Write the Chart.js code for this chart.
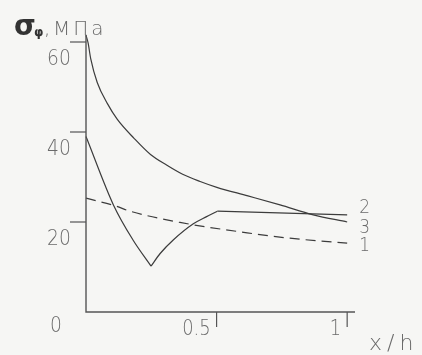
<!DOCTYPE html>
<html>
<head>
<meta charset="utf-8">
<script src="https://cdn.jsdelivr.net/npm/chart.js@4"></script>
<style>
html,body{margin:0;padding:0;background:#f6f6f4;}
#wrap{width:422px;height:355px;position:relative;}
</style>
</head>
<body>
<div id="wrap"><canvas id="c" width="422" height="355"></canvas></div>
<script>
// ---- data ----
const curve3X = [0, 0.008, 0.018, 0.043, 0.082, 0.12, 0.184, 0.247, 0.31, 0.37, 0.437, 0.501, 0.62, 0.743, 0.87, 1.0];
const curve3Y = [61.5, 59.8, 56.3, 51.0, 46.3, 42.8, 38.6, 35.0, 32.6, 30.6, 29.0, 27.7, 25.8, 23.8, 21.6, 20.0];

const curve2DownX = [0, 0.105, 0.18, 0.249];
const curve2DownY = [39, 23.8, 16, 10.2];
const curve2UpX = [0.249, 0.284, 0.334, 0.411, 0.462, 0.503];
const curve2UpY = [10.2, 13.0, 16.0, 19.6, 21.2, 22.4];
const curve2FlatX = [0.503, 1.0];
const curve2FlatY = [22.4, 21.6];

const curve1X = [0, 0.111, 0.169, 0.36, 0.617, 0.78, 1.0];
const curve1Y = [25.3, 23.6, 22.4, 19.9, 17.6, 16.4, 15.3];

const yTicks = [0, 20, 40, 60];
const yTickLabels = ['0', '20', '40', '60'];
const xTicks = [0.5, 1];
const xTickLabels = ['0.5', '1'];
const curveLabels = ['2', '3', '1'];
const curveLabelY = [23.2, 18.8, 14.8];

const xMax = 1.03, yMax = 60;

function pts(xs, ys){ return xs.map((x,i)=>({x:x, y:ys[i]})); }

const LINE = '#3c3c3c';
const TEXT = '#6a6a6a';
const FONT = '"DejaVu Sans", sans-serif';

function ds(data, dash){
  return {data:data, borderColor:LINE, borderWidth:1.2, pointRadius:0,
    cubicInterpolationMode:'monotone', borderDash:dash||[], clip:false, fill:false};
}

const axesPlugin = {
  id:'axesPlugin',
  beforeDraw(chart){
    const ctx = chart.ctx;
    ctx.save();
    ctx.fillStyle = '#f6f6f4';
    ctx.fillRect(0,0,chart.width,chart.height);
    ctx.restore();
  },
  afterDraw(chart){
    const ctx = chart.ctx, xs = chart.scales.x, ys = chart.scales.y;
    const x0 = xs.getPixelForValue(0), y0 = ys.getPixelForValue(0);
    ctx.save();
    ctx.strokeStyle = '#555';
    ctx.lineWidth = 1.4;
    // axes
    ctx.beginPath();
    ctx.moveTo(x0, ys.getPixelForValue(61.6));
    ctx.lineTo(x0, y0);
    ctx.lineTo(xs.getPixelForValue(xMax), y0);
    ctx.stroke();
    // y ticks
    ctx.lineWidth = 1.2;
    ctx.fillStyle = TEXT;
    ctx.font = '200 22px ' + FONT;
    ctx.textAlign = 'center';
    ctx.textBaseline = 'middle';
    yTicks.forEach((v,i)=>{
      const py = ys.getPixelForValue(v);
      if (v !== 0){
        ctx.beginPath(); ctx.moveTo(x0-16, py); ctx.lineTo(x0, py); ctx.stroke();
      }
      ctx.save();
      ctx.translate(v===0 ? x0-30 : x0-27, py + (v===0 ? 14 : 17));
      ctx.scale(0.85,1);
      ctx.fillText(yTickLabels[i], 0, 0);
      ctx.restore();
    });
    // x ticks
    ctx.textAlign = 'right';
    ctx.font = '200 21px ' + FONT;
    xTicks.forEach((v,i)=>{
      const px = xs.getPixelForValue(v);
      ctx.beginPath(); ctx.moveTo(px, y0); ctx.lineTo(px, y0+15); ctx.stroke();
      ctx.save();
      ctx.translate(px-6, y0+18);
      ctx.scale(0.85,1);
      ctx.fillText(xTickLabels[i], 0, 0);
      ctx.restore();
    });
    // x axis title
    ctx.textAlign = 'left';
    ctx.font = '200 22px ' + FONT;
    ctx.letterSpacing = '5px';
    ctx.fillText('x/h', 369, 344);
    ctx.letterSpacing = '0px';
    // curve labels
    ctx.font = '200 20px ' + FONT;
    curveLabels.forEach((t,i)=>{
      ctx.save();
      ctx.translate(xs.getPixelForValue(1.0)+12, ys.getPixelForValue(curveLabelY[i]));
      ctx.scale(0.85,1);
      ctx.fillText(t, 0, 0);
      ctx.restore();
    });
    // y axis title
    ctx.textBaseline = 'alphabetic';
    ctx.fillStyle = '#333';
    ctx.font = 'bold 28px ' + FONT;
    ctx.fillText('σ', 14, 35);
    ctx.font = 'bold 12px ' + FONT;
    ctx.fillText('φ', 34, 36);
    ctx.fillStyle = TEXT;
    ctx.font = '200 20px ' + FONT;
    ctx.fillText(',', 44, 35);
    ctx.letterSpacing = '3px';
    ctx.fillText('МПа', 53, 35);
    ctx.letterSpacing = '0px';
    ctx.restore();
  }
};

new Chart(document.getElementById('c'), {
  type:'line',
  data:{datasets:[
    ds(pts(curve3X, curve3Y)),
    ds(pts(curve2DownX, curve2DownY)),
    ds(pts(curve2UpX, curve2UpY)),
    ds(pts(curve2FlatX, curve2FlatY)),
    ds(pts(curve1X, curve1Y), [10,6])
  ]},
  options:{
    responsive:false, animation:false, devicePixelRatio:1,
    layout:{padding:{left:86, right:67, top:42, bottom:43}},
    plugins:{legend:{display:false}, tooltip:{enabled:false}},
    scales:{
      x:{type:'linear', min:0, max:xMax, display:false},
      y:{type:'linear', min:0, max:yMax, display:false}
    }
  },
  plugins:[axesPlugin]
});
</script>
</body>
</html>
